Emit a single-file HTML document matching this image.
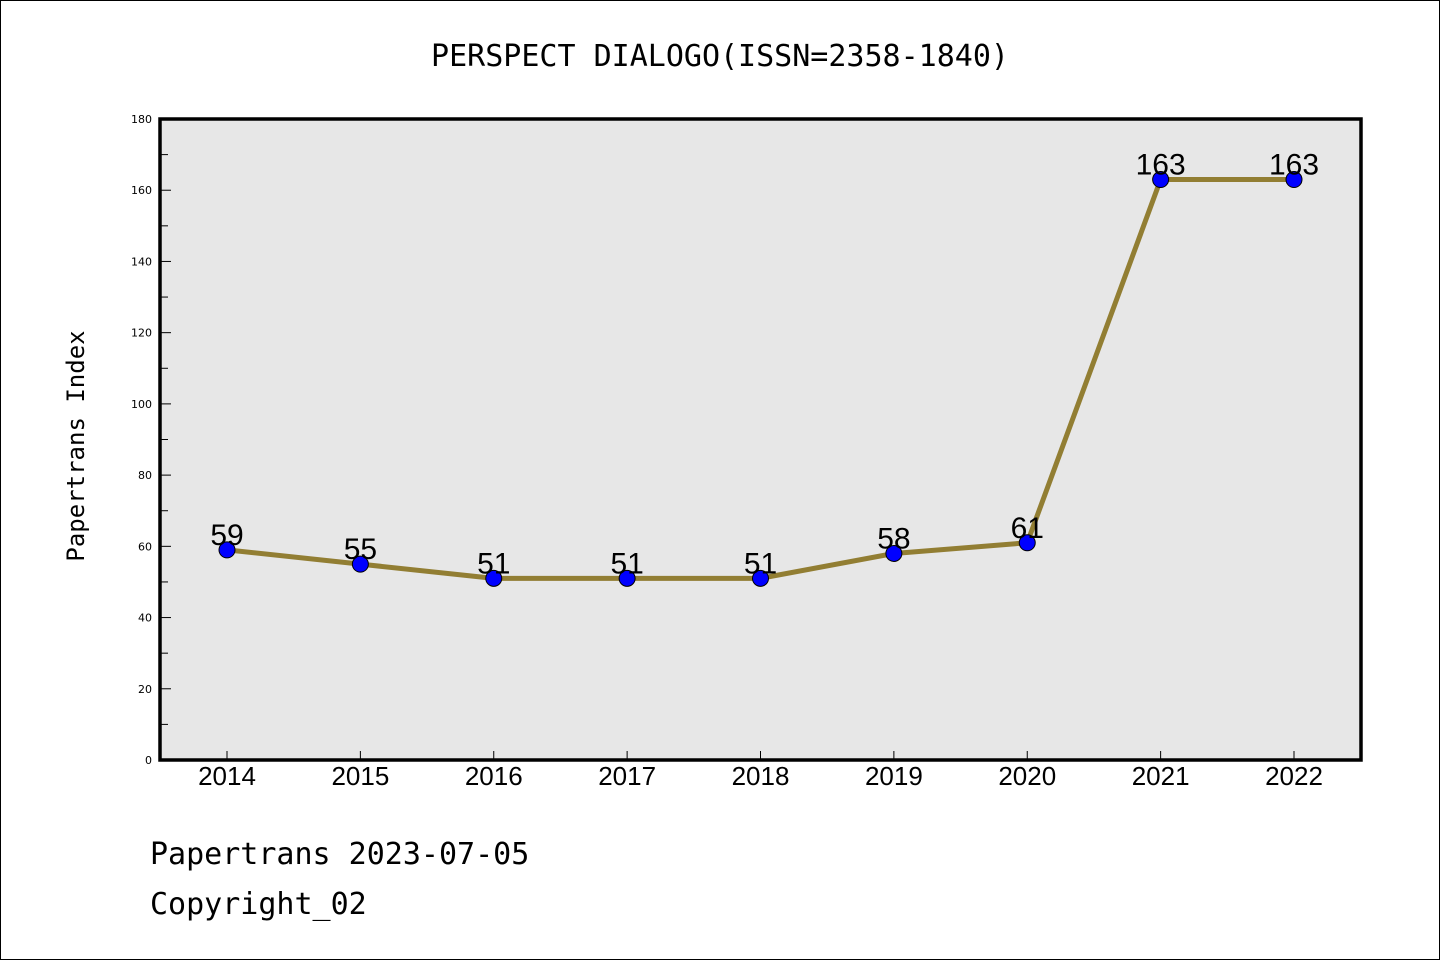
<!DOCTYPE html>
<html><head><meta charset="utf-8"><style>
html,body{margin:0;padding:0;background:#fff}
svg{display:block}
</style></head><body>
<svg id="c" width="1440" height="960" xmlns="http://www.w3.org/2000/svg">
<rect x="0.5" y="0.5" width="1439" height="959" fill="#fff" stroke="#000" stroke-width="1"/>
<text x="720" y="66" text-anchor="middle" font-family="'WenQuanYi Zen Hei','DejaVu Sans Mono',monospace" font-size="30">PERSPECT DIALOGO(ISSN=2358-1840)</text>
<rect x="160" y="119" width="1201" height="641" fill="#e7e7e7"/>
<g id="yt"></g>
<g id="xt"></g>
<g id="series"></g>
<rect x="160" y="119" width="1201" height="641" fill="none" stroke="#000" stroke-width="3.5"/>
<text transform="translate(84,446) rotate(-90)" text-anchor="middle" font-family="'WenQuanYi Zen Hei','DejaVu Sans Mono',monospace" font-size="24">Papertrans Index</text>
<text x="150" y="864" font-family="'WenQuanYi Zen Hei','DejaVu Sans Mono',monospace" font-size="30">Papertrans 2023-07-05</text>
<text x="150" y="914" font-family="'WenQuanYi Zen Hei','DejaVu Sans Mono',monospace" font-size="30">Copyright_02</text>
</svg>
<script>
const categories=["2014","2015","2016","2017","2018","2019","2020","2021","2022"];
const values=[59,55,51,51,51,58,61,163,163];
const yTicks=[0,20,40,60,80,100,120,140,160,180];
const NS="http://www.w3.org/2000/svg";
const x0=227,x1=1294,yB=760,yT=119,yMax=180;
function xs(i){return x0+(x1-x0)*i/(categories.length-1);}
function ys(v){return yB-(yB-yT)*v/yMax;}
function mk(tag,attrs,parent){const e=document.createElementNS(NS,tag);for(const k in attrs)e.setAttribute(k,attrs[k]);parent.appendChild(e);return e;}
const yt=document.getElementById('yt'),xt=document.getElementById('xt'),sg=document.getElementById('series');
yTicks.forEach(v=>{
  const y=ys(v);
  const t=mk('line',{x1:160,x2:171,y1:y,y2:y,stroke:'#000','stroke-width':1},yt);
  
  
  if(v<yMax){const ym=ys(v+10);const m=mk('line',{x1:160,x2:168,y1:ym,y2:ym,stroke:'#000','stroke-width':1},yt);
  
  }
  const l=mk('text',{x:152,y:y+4,'text-anchor':'end','font-family':"'DejaVu Sans',sans-serif",'font-size':11},yt);
  l.textContent=v;
  
  
});
categories.forEach((c,i)=>{
  const x=xs(i);
  const t=mk('line',{x1:x,x2:x,y1:760,y2:751,stroke:'#000','stroke-width':1},xt);
  
  
  const l=mk('text',{x:x,y:785,'text-anchor':'middle','font-family':"'Liberation Sans',sans-serif",'font-size':26},xt);
  l.textContent=c;
  
  
});
const pts=values.map((v,i)=>xs(i)+','+ys(v)).join(' ');
const pl=mk('polyline',{points:pts,fill:'none',stroke:'#927e33','stroke-width':5,'stroke-linejoin':'round'},sg);


values.forEach((v,i)=>{
  const c=mk('circle',{cx:xs(i),cy:ys(v),r:8,fill:'#0000ff',stroke:'#000','stroke-width':1},sg);
  
  
  const l=mk('text',{x:xs(i),y:ys(v)-5,'text-anchor':'middle','font-family':"'Liberation Sans',sans-serif",'font-size':30},sg);
  l.textContent=v;
  
  
});
</script>
</body></html>
